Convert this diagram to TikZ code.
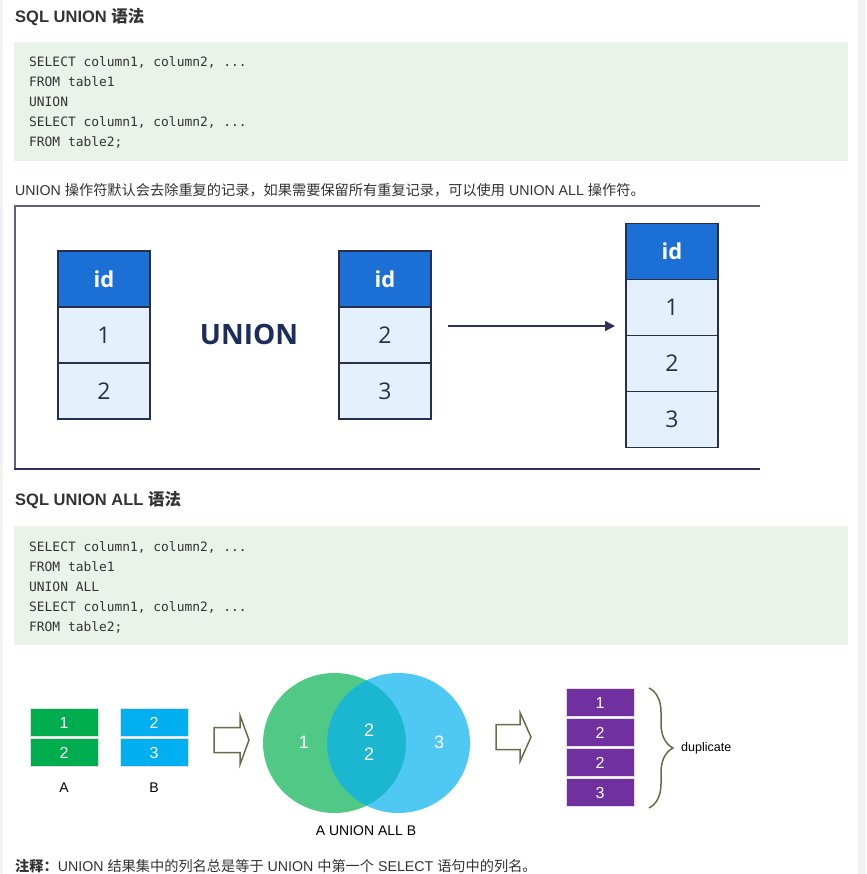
\documentclass[tikz,border=0pt]{standalone}
\usepackage{fontspec}
\setmainfont{Liberation Sans}
\newfontfamily\cjk{Noto Sans CJK SC}
\newfontfamily\codefont{DejaVu Sans Mono}
\newfontfamily\figfont{Open Sans}
\usetikzlibrary{arrows.meta,decorations.pathreplacing}
\definecolor{txt}{HTML}{333333}
\definecolor{codebg}{HTML}{EAF3EA}
\definecolor{idblue}{HTML}{1C6FD4}
\definecolor{cellbg}{HTML}{E4F1FC}
\definecolor{navy}{HTML}{26304D}
\definecolor{unionnavy}{HTML}{1B2D5C}
\definecolor{framegray}{HTML}{5E607E}
\definecolor{arrowcol}{HTML}{2E3060}
\definecolor{agreen}{HTML}{00AD4E}
\definecolor{bblue}{HTML}{00AFEF}
\definecolor{venngreen}{HTML}{50C986}
\definecolor{vennblue}{HTML}{4FC8F3}
\definecolor{vennmix}{HTML}{1BB6CF}
\definecolor{olive}{HTML}{62704A}
\definecolor{rowpurple}{HTML}{7030A0}
\newcommand\cols{column1, column2, ...}

\begin{document}
\begin{tikzpicture}[x=1pt,y=-1pt,
  heading/.style={font=\fontsize{16.5}{20}\selectfont\bfseries,text=txt,anchor=west,inner sep=0},
  para/.style={font=\fontsize{14.2}{17}\selectfont,text=txt,anchor=west,inner sep=0},
  code/.style={font=\codefont\fontsize{12.9}{15}\selectfont,text=txt,anchor=west,inner sep=0,text height=9pt,text depth=3pt},
  cell/.style={draw=navy,line width=1.2pt,fill=cellbg,minimum width=92pt,minimum height=56pt,inner sep=0,text=navy,font=\figfont\fontsize{23}{27}\selectfont},
  idcell/.style={cell,fill=idblue,text=white,font=\figfont\bfseries\fontsize{22}{26}\selectfont},
  flow/.style={draw=arrowcol,line width=1.6pt,-{Triangle[length=10pt,width=10pt]}},
  box/.style={draw=black!12,line width=1pt,minimum width=68pt,minimum height=28pt,inner sep=0,text=white,font=\fontsize{16}{19}\selectfont},
  lbl/.style={font=\fontsize{14}{17}\selectfont,text=black},
  hollow/.style={draw=olive,line width=1.5pt,fill=white,line join=miter},
  vennlbl/.style={font=\fontsize{18}{21}\selectfont,text=white},
]
\fill[white] (0,0) rectangle (866,874);
\useasboundingbox (0,0) rectangle (866,874);
\fill[black!5] (0,0) rectangle (3,874);
\fill[black!5] (858,0) rectangle (866,874);

\node[heading] (h1) at (15,17) {SQL UNION \cjk 语法};
\fill[codebg] (14,42) rectangle (848,161);
\foreach \ln [count=\i] in {{SELECT \cols},{FROM table1},{UNION},{SELECT \cols},{FROM table2;}}
  \node[code] (codeA-\i) at (29,44+20*\i) {\ln};
\node[para] (note1) at (15,190) {UNION {\cjk 操作符默认会去除重复的记录，如果需要保留所有重复记录，可以使用} UNION ALL {\cjk 操作符。}};

\draw[framegray,line width=1.5pt] (760,206) -- (15,206) -- (15,469);
\draw[arrowcol,line width=2pt] (14,469) -- (760,469);
\foreach \t/\x/\y/\vals in {ta/104/279/{1,2},tb/385/279/{2,3},tc/672/251.5/{1,2,3}}{
  \node[idcell] (\t-h) at (\x,\y) {id};
  \foreach \v [count=\i] in \vals
    \node[cell] (\t-\i) at (\x,\y+56*\i) {\v};
}
\node[font=\figfont\bfseries\fontsize{28}{32}\selectfont,text=unionnavy] (union) at (249,334) {UNION};
\coordinate (arrS) at (448,326);
\coordinate (arrE) at (615,326);
\draw[flow] (arrS) -- (arrE);

\node[heading] (h2) at (15,500) {SQL UNION ALL \cjk 语法};
\fill[codebg] (14,526) rectangle (848,645);
\foreach \ln [count=\i] in {{SELECT \cols},{FROM table1},{UNION ALL},{SELECT \cols},{FROM table2;}}
  \node[code] (codeB-\i) at (29,528+20*\i) {\ln};

\foreach \n/\x/\col/\a/\b in {A/64/agreen/1/2,B/154/bblue/2/3}{
  \node[box,fill=\col] (\n1) at (\x,722.5) {\a};
  \node[box,fill=\col] (\n2) at (\x,752.5) {\b};
  \node[lbl] (\n-lbl) at (\x,788) {\n};
}
\foreach \l/\m/\r/\c in {214/240/249/740,496/520/531/737}
  \draw[hollow] (\l,\c-12.5) -- (\m,\c-12.5) -- (\m,\c-24.5) -- (\r,\c) -- (\m,\c+24.5) -- (\m,\c+12.5) -- (\l,\c+12.5) -- cycle;

\fill[venngreen] (334.5,743) ellipse [x radius=71.5pt,y radius=70pt];
\fill[vennblue] (398.5,743) ellipse [x radius=71.5pt,y radius=70pt];
\begin{scope}
  \clip (334.5,743) ellipse [x radius=71.5pt,y radius=70pt];
  \fill[vennmix] (398.5,743) ellipse [x radius=71.5pt,y radius=70pt];
\end{scope}
\node[vennlbl] (vA) at (304,742) {1};
\node[vennlbl] (vAB1) at (369,730) {2};
\node[vennlbl] (vAB2) at (369,754) {2};
\node[vennlbl] (vB) at (439,742) {3};
\node[lbl] (venn-lbl) at (366,831) {A UNION ALL B};

\foreach \v [count=\i] in {1,2,2,3}
  \node[box,fill=rowpurple] (p\i) at (600,672.5+30*\i) {\v};
\draw[olive,line width=1.5pt,decorate,decoration={brace,amplitude=24pt}] (649,688) -- (649,808);
\node[font=\fontsize{12.5}{15}\selectfont,text=black,anchor=west,inner sep=0] (dup) at (681,748) {duplicate};

\node[para] (note2) at (15,866) {{\cjk\bfseries 注释：}UNION {\cjk 结果集中的列名总是等于} UNION {\cjk 中第一个} SELECT {\cjk 语句中的列名。}};
\end{tikzpicture}
\end{document}
